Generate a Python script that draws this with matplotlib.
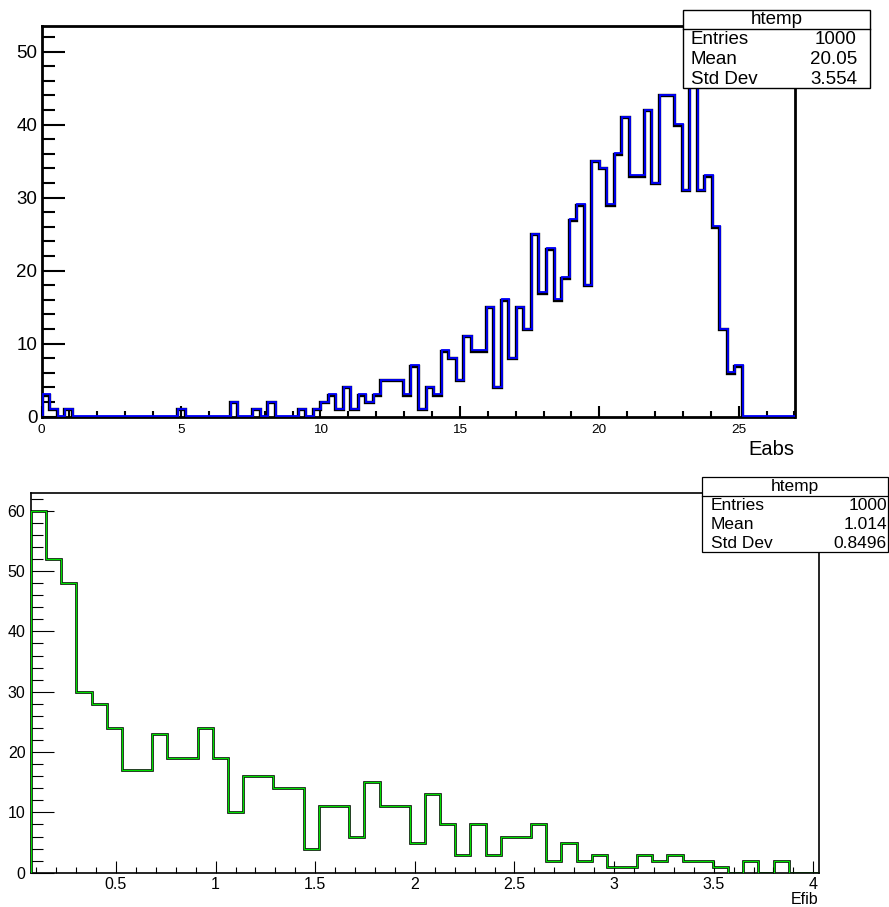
import numpy as np
import matplotlib
matplotlib.use("Agg")
import matplotlib.pyplot as plt
import matplotlib.transforms as mtransforms
from matplotlib.ticker import MultipleLocator, FuncFormatter
from matplotlib.patches import Rectangle

plt.rcParams['font.family'] = ['Liberation Sans', 'DejaVu Sans']

# ---------------- data ----------------
eabs_counts = [3, 1, 0, 1] + [0] * 14 + [1] + [0] * 6 + [2, 0, 0, 1, 0, 2, 0, 0, 0, 1, 0, 1] + \
    [2, 3, 1, 4, 1, 3, 2, 3,
     5, 5, 5, 3, 7, 1, 4, 3,
     9, 8, 5, 11, 9, 9, 15, 4,
     16, 8, 15, 12, 25, 17, 23, 16,
     19, 27, 29, 18, 35, 34, 29, 36,
     41, 33, 33, 42, 32, 44, 44, 40,
     31, 51, 31, 33, 26, 12, 6, 7] + [0] * 7
eabs_range = (0.0, 27.0)
eabs_name = "Eabs"
eabs_stats = ["1000", "20.05", "3.554"]

efib_counts = [60, 52, 48, 30, 28, 24, 17, 17, 23, 19,
               19, 24, 19, 10, 16, 16, 14, 14, 4, 11,
               11, 6, 15, 11, 11, 5, 13, 8, 3, 8,
               3, 6, 6, 8, 2, 5, 2, 3, 1, 1,
               3, 2, 3, 2, 2, 1, 0, 2, 0, 2,
               0, 0]
efib_range = (0.0734, 4.0286)
efib_name = "Efib"
efib_stats = ["1000", "1.014", "0.8496"]

stat_names = ["Entries", "Mean", "Std Dev"]
hist_title = "htemp"

W, H = 889, 907
fig = plt.figure(figsize=(W / 100, H / 100), dpi=100)
fig.patch.set_facecolor("white")


def fx(px):
    return px / W


def fy(py):
    return 1 - py / H


def add_axes_px(l, t, r, b):
    return fig.add_axes([fx(l), fy(b), fx(r) - fx(l), fy(t) - fy(b)])


def stat_box(x0, y0, x1, y1, ydiv, rows_y, fs, names, vals, xl, xr, lw):
    fig.patches.append(Rectangle((fx(x0), fy(y1)), fx(x1) - fx(x0), fy(y0) - fy(y1),
                                 transform=fig.transFigure, facecolor="white",
                                 edgecolor="black", lw=lw, zorder=10))
    fig.lines.append(plt.Line2D([fx(x0), fx(x1)], [fy(ydiv), fy(ydiv)],
                                transform=fig.transFigure, color="black", lw=lw, zorder=11))
    fig.text((fx(x0) + fx(x1)) / 2, fy((y0 + ydiv) / 2), hist_title, ha="center",
             va="center", fontsize=fs, zorder=12)
    for ry, n, v in zip(rows_y, names, vals):
        fig.text(fx(xl), fy(ry), n, ha="left", va="center", fontsize=fs, zorder=12)
        fig.text(fx(xr), fy(ry), v, ha="right", va="center", fontsize=fs, zorder=12)


# ---------------- top panel ----------------
ax1 = add_axes_px(41.5, 25.7, 794.5, 416.7)
e1 = np.linspace(eabs_range[0], eabs_range[1], len(eabs_counts) + 1)
ax1.stairs(eabs_counts, e1, color="black", lw=2.4, baseline=0, zorder=3)
shift = mtransforms.ScaledTranslation(1.0 / 100, 0.5 / 100, fig.dpi_scale_trans)
ax1.stairs(eabs_counts, e1, color="#0000ff", lw=1.3, baseline=0, zorder=4,
           transform=ax1.transData + shift)
ax1.set_xlim(*eabs_range)
ax1.set_ylim(0, max(eabs_counts) * 1.05)
ax1.xaxis.set_major_locator(MultipleLocator(5))
ax1.xaxis.set_minor_locator(MultipleLocator(1))
ax1.yaxis.set_major_locator(MultipleLocator(10))
ax1.yaxis.set_minor_locator(MultipleLocator(2))
ax1.tick_params(axis="both", which="both", direction="in", top=False, right=False, width=1.5)
ax1.tick_params(axis="y", which="major", length=16.5, labelsize=13.5, pad=3)
ax1.tick_params(axis="y", which="minor", length=9)
ax1.tick_params(axis="x", which="major", length=7.7, labelsize=9.7, pad=5)
ax1.tick_params(axis="x", which="minor", length=4.3)
for s in ax1.spines.values():
    s.set_linewidth(2.0)
fig.text(fx(794), fy(450), eabs_name, ha="right", va="center", fontsize=14.5)
stat_box(683, 10, 870, 88, 29, [40, 60, 80], 13.5, stat_names, eabs_stats, 691, 857, 1.0)

# ---------------- bottom panel ----------------
ax2 = add_axes_px(31, 492.7, 819, 872.7)
e2 = np.linspace(efib_range[0], efib_range[1], len(efib_counts) + 1)
ax2.stairs(efib_counts, e2, color="black", lw=1.9, baseline=0, zorder=3)
ax2.stairs(efib_counts, e2, color="#00dd00", lw=0.9, baseline=0, zorder=4)
ax2.set_xlim(*efib_range)
ax2.set_ylim(0, max(efib_counts) * 1.05)
ax2.xaxis.set_major_locator(MultipleLocator(0.5))
ax2.xaxis.set_minor_locator(MultipleLocator(0.1))
ax2.xaxis.set_major_formatter(FuncFormatter(lambda v, p: "%g" % v))
ax2.yaxis.set_major_locator(MultipleLocator(10))
ax2.yaxis.set_minor_locator(MultipleLocator(2))
ax2.tick_params(axis="both", which="both", direction="in", top=False, right=False, width=0.8)
ax2.tick_params(axis="y", which="major", length=16.5, labelsize=11.5, pad=4)
ax2.tick_params(axis="y", which="minor", length=8.4)
ax2.tick_params(axis="x", which="major", length=9, labelsize=11.5, pad=3)
ax2.tick_params(axis="x", which="minor", length=4.3)
for s in ax2.spines.values():
    s.set_linewidth(1.2)
fig.text(fx(818), fy(900), efib_name, ha="right", va="center", fontsize=11.5)
stat_box(701.7, 476.7, 888, 552.3, 495.7, [505, 524.3, 543.3], 12.5, stat_names, efib_stats, 711, 887, 0.9)

fig.savefig("out.png", dpi=100, facecolor="white")
